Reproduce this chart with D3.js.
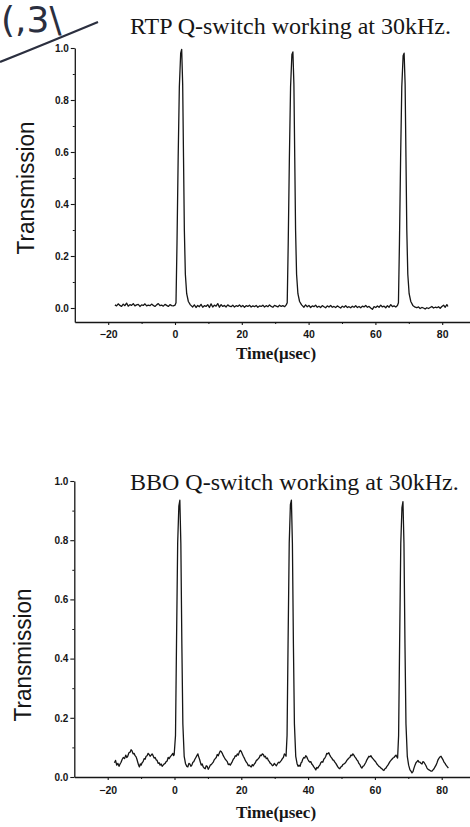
<!DOCTYPE html>
<html>
<head>
<meta charset="utf-8">
<script src="https://cdn.jsdelivr.net/npm/d3@7"></script>
<style>
  html, body { margin: 0; padding: 0; background: #fff; }
  svg { display: block; }
</style>
</head>
<body>
<svg id="chart"></svg>
<script>
// ---- data ----
const yTicks = [0, 0.2, 0.4, 0.6, 0.8, 1.0];
const yMinorTicks = [0.1, 0.3, 0.5, 0.7, 0.9];
const xTicks = [-20, 0, 20, 40, 60, 80];
const xMinorTicks = [-10, 10, 30, 50, 70];

const rtpTitle = "RTP Q-switch working at 30kHz.";
const bboTitle = "BBO Q-switch working at 30kHz.";

// [time (usec), transmission]
const rtpPoints = [
  [-18,.012],[-17.5,.008],[-17,.016],[-16.5,.010],[-16,.006],[-15.5,.015],[-15,.009],[-14.5,.019],
  [-14,.007],[-13.5,.013],[-13,.010],[-12.5,.017],[-12,.008],[-11.5,.012],[-11,.014],[-10.5,.006],
  [-10,.012],[-9.5,.010],[-9,.016],[-8.5,.008],[-8,.011],[-7.5,.009],[-7,.015],[-6.5,.010],
  [-6,.006],[-5.5,.012],[-5,.017],[-4.5,.009],[-4,.011],[-3.5,.007],[-3,.014],[-2.5,.010],
  [-2,.006],[-1.5,.013],[-1,.009],[-0.5,.008],[0,.011],
  [0.3,.02],[0.6,.25],[0.95,.58],[1.3,.85],[1.7,.98],[2.0,.995],[2.3,.86],[2.55,.58],[2.8,.30],
  [3.1,.13],[3.5,.055],[4.0,.025],[4.6,.012],
  [5.3,.004],[5.8,.012],[6.3,.002],[6.8,.010],[7.3,.005],[7.8,.014],[8.3,.003],[8.8,.009],
  [9.3,.006],[9.8,.013],[10.3,.002],[10.8,.016],[11.3,.004],[11.8,.011],[12.3,.007],[12.8,.017],
  [13.3,.003],[13.8,.013],[14.3,.006],[14.8,.010],[15.3,.004],[15.8,.012],[16.3,.007],[16.8,.005],
  [17.3,.011],[17.8,.004],[18.3,.009],[18.8,.006],[19.3,.012],[19.8,.005],[20.3,.010],[20.8,.003],
  [21.3,.009],[21.8,.006],[22.3,.011],[22.8,.004],[23.3,.008],[23.8,.005],[24.3,.010],[24.8,.003],
  [25.3,.008],[25.8,.006],[26.3,.011],[26.8,.004],[27.3,.009],[27.8,.005],[28.3,.012],[28.8,.006],
  [29.3,.003],[29.8,.010],[30.3,.007],[30.8,.004],[31.3,.011],[31.8,.006],[32.3,.009],[32.8,.005],
  [33.3,.012],
  [33.6,.02],[33.9,.25],[34.25,.58],[34.6,.85],[35.0,.975],[35.3,.985],[35.6,.86],[35.85,.58],
  [36.1,.30],[36.4,.13],[36.8,.055],[37.3,.025],[37.9,.012],
  [38.6,.003],[39.1,.012],[39.6,.005],[40.1,.010],[40.6,.002],[41.1,.008],[41.6,.005],[42.1,.011],
  [42.6,.003],[43.1,.007],[43.6,.002],[44.1,.009],[44.6,.005],[45.1,.001],[45.6,.008],[46.1,.004],
  [46.6,.010],[47.1,.003],[47.6,.006],[48.1,.002],[48.6,.008],[49.1,.004],[49.6,.000],[50.1,.007],
  [50.6,.003],[51.1,.009],[51.6,.002],[52.1,.005],[52.6,.001],[53.1,.007],[53.6,.003],[54.1,.009],
  [54.6,.002],[55.1,.006],[55.6,.001],[56.1,.007],[56.6,.004],[57.1,.010],[57.6,.003],[58.1,.006],
  [58.6,.000],[59.1,-.005],[59.6,.005],[60.1,.002],[60.6,.008],[61.1,.003],[61.6,.011],[62.1,.004],
  [62.6,.007],[63.1,.001],[63.6,.009],[64.1,.003],[64.6,.013],[65.1,.005],[65.6,.008],[66.1,.004],
  [66.6,.010],
  [66.9,.02],[67.2,.25],[67.55,.58],[67.9,.85],[68.3,.97],[68.6,.98],[68.9,.86],[69.15,.58],
  [69.4,.30],[69.7,.13],[70.1,.055],[70.6,.025],[71.2,.010],
  [71.9,.003],[72.4,.001],[72.9,.004],[73.4,-.002],[73.9,.002],[74.4,.000],[74.9,-.004],[75.4,.001],
  [75.9,-.002],[76.4,.002],[76.9,.006],[77.4,.000],[77.9,.003],[78.4,.001],[78.9,.005],[79.4,-.001],
  [79.9,.006],[80.4,.011],[80.9,.003],[81.4,.013],[81.7,.006]
];

const bboPoints = [
  [-18,.048],[-17.65,.056],[-17.3,.040],[-16.95,.046],[-16.6,.036],[-16.3,.044],[-16,.050],[-15.65,.060],
  [-15.3,.066],[-14.95,.062],[-14.6,.074],[-14.3,.066],[-14,.070],[-13.65,.082],[-13.3,.084],[-13,.092],
  [-12.7,.088],[-12.4,.078],[-12.1,.080],[-11.8,.072],[-11.5,.068],[-11.25,.060],[-11,.050],[-10.75,.040],
  [-10.5,.034],[-10.25,.044],[-10,.040],[-9.7,.048],[-9.4,.052],[-9.1,.062],[-8.8,.060],[-8.5,.070],
  [-8.2,.072],[-7.9,.080],[-7.6,.076],[-7.3,.070],[-7,.074],[-6.7,.078],[-6.4,.072],[-6.1,.064],
  [-5.8,.066],[-5.5,.058],[-5.2,.056],[-4.9,.046],[-4.6,.048],[-4.3,.040],[-4,.044],[-3.7,.036],
  [-3.4,.040],[-3.1,.044],[-2.8,.046],[-2.5,.052],[-2.2,.054],[-1.9,.066],[-1.6,.062],[-1.3,.068],
  [-1,.072],[-0.75,.076],[-0.5,.080],[-0.3,.072],[-0.1,.075],
  [0.3,.14],[0.6,.45],[0.95,.79],[1.3,.915],[1.6,.935],[1.9,.79],[2.2,.45],[2.5,.18],[2.9,.07],[3.3,.045],
  [3.7,.036],[4.0,.034],[4.3,.046],[4.6,.044],[4.9,.036],[5.2,.040],[5.5,.050],[5.8,.052],
  [6.1,.060],[6.4,.066],[6.7,.072],[7.0,.078],[7.25,.068],[7.5,.060],[7.75,.050],[8.0,.040],
  [8.3,.044],[8.6,.034],[8.9,.030],[9.2,.028],[9.5,.038],[9.8,.036],[10.1,.026],[10.4,.032],
  [10.7,.040],[11,.042],[11.3,.046],[11.6,.050],[11.9,.058],[12.2,.062],[12.5,.066],[12.8,.076],
  [13.1,.072],[13.4,.080],[13.7,.088],[14,.086],[14.3,.080],[14.6,.072],[14.9,.066],[15.2,.060],
  [15.5,.056],[15.8,.052],[16.1,.042],[16.4,.044],[16.7,.040],[17,.046],[17.3,.052],[17.6,.060],
  [17.9,.064],[18.2,.072],[18.5,.070],[18.8,.078],[19.1,.074],[19.4,.084],[19.7,.090],[20,.086],
  [20.3,.078],[20.6,.070],[20.9,.064],[21.2,.056],[21.5,.050],[21.8,.046],[22.1,.038],[22.4,.040],
  [22.7,.036],[23,.034],[23.3,.042],[23.6,.038],[23.9,.044],[24.2,.048],[24.5,.056],[24.8,.058],
  [25.1,.062],[25.4,.066],[25.7,.074],[26,.072],[26.3,.078],[26.6,.076],[26.9,.068],[27.2,.070],
  [27.5,.062],[27.8,.064],[28.1,.056],[28.4,.052],[28.7,.046],[29,.044],[29.3,.038],[29.6,.040],
  [29.9,.046],[30.2,.042],[30.5,.038],[30.8,.044],[31.1,.050],[31.4,.048],[31.7,.052],[32,.056],
  [32.3,.062],[32.6,.066],[32.9,.078],[33.1,.076],[33.4,.070],
  [33.7,.14],[34.0,.45],[34.35,.79],[34.7,.92],[35.0,.935],[35.3,.79],[35.6,.45],[35.9,.18],[36.3,.07],[36.7,.045],
  [37.0,.036],[37.3,.040],[37.6,.036],[37.9,.048],[38.1,.050],[38.4,.060],[38.7,.066],[39.0,.064],
  [39.3,.072],[39.6,.068],[39.9,.060],[40.2,.054],[40.5,.050],[40.8,.052],[41.1,.044],[41.4,.040],
  [41.7,.034],[42.0,.030],[42.3,.024],[42.6,.032],[42.9,.030],[43.2,.036],[43.5,.040],[43.8,.048],
  [44.1,.052],[44.4,.050],[44.7,.060],[45.0,.064],[45.3,.070],[45.6,.080],[45.9,.078],[46.2,.082],
  [46.5,.074],[46.8,.068],[47.1,.064],[47.4,.058],[47.7,.056],[48.0,.050],[48.3,.046],[48.6,.040],
  [48.9,.034],[49.2,.030],[49.5,.028],[49.8,.034],[50.1,.036],[50.4,.042],[50.7,.044],[51.0,.046],
  [51.3,.050],[51.6,.056],[51.9,.060],[52.2,.064],[52.5,.066],[52.8,.074],[53.1,.072],[53.4,.078],
  [53.7,.074],[54.0,.068],[54.3,.064],[54.6,.058],[54.9,.054],[55.2,.046],[55.5,.042],[55.8,.034],
  [56.1,.030],[56.4,.036],[56.7,.038],[57.0,.044],[57.3,.050],[57.6,.058],[57.9,.064],[58.2,.070],
  [58.5,.068],[58.8,.072],[59.1,.066],[59.4,.062],[59.7,.058],[60.0,.054],[60.3,.050],[60.6,.044],
  [60.9,.040],[61.2,.036],[61.5,.034],[61.8,.030],[62.1,.028],[62.4,.024],[62.7,.022],[63.0,.028],
  [63.3,.030],[63.6,.036],[63.9,.040],[64.2,.046],[64.5,.052],[64.8,.056],[65.1,.060],[65.4,.064],
  [65.7,.066],[66.0,.070],[66.3,.074],[66.6,.068],[66.8,.064],
  [67.1,.14],[67.4,.45],[67.75,.79],[68.1,.91],[68.4,.93],[68.7,.79],[69.0,.45],[69.3,.18],[69.7,.07],[70.1,.04],
  [70.5,.024],[70.8,.020],[71.1,.014],[71.4,.018],[71.7,.030],[72.0,.040],[72.3,.048],[72.6,.052],
  [72.9,.056],[73.2,.050],[73.5,.050],[73.8,.046],[74.1,.044],[74.4,.052],[74.7,.050],[75.0,.044],
  [75.3,.038],[75.6,.030],[75.9,.026],[76.2,.024],[76.5,.022],[76.8,.020],[77.1,.020],[77.4,.024],
  [77.7,.028],[78.0,.034],[78.3,.040],[78.6,.048],[78.9,.058],[79.2,.064],[79.5,.068],[79.8,.070],
  [80.1,.064],[80.4,.058],[80.7,.050],[81.0,.046],[81.3,.040],[81.6,.036],[82,.030]
];

const width = 470;
const height = 827;
const ink = "#161616";

const svg = d3.select("#chart")
  .attr("width", width)
  .attr("height", height)
  .attr("viewBox", [0, 0, width, height]);

// handwritten scribble in the top-left corner of the scan
svg.append("text")
  .attr("x", 1)
  .attr("y", 32)
  .attr("font-family", "DejaVu Sans")
  .attr("font-size", 36)
  .attr("fill", "#2b2f3f")
  .text("(,3\\");
svg.append("path")
  .attr("d", "M0,62 Q45,44 98,22")
  .attr("fill", "none")
  .attr("stroke", "#2b2f3f")
  .attr("stroke-width", 2.2);

function panel({points, title, titleY, x0, yTop, yZero, xAxisY, labelPos, tickPad, timeY}) {
  const x = d3.scaleLinear()
    .domain([-30, 90])
    .range([x0 - 30 * 3.34, x0 + 90 * 3.34]);
  const y = d3.scaleLinear()
    .domain([0, 1])
    .range([yZero, yTop]);
  const yMin = y.invert(xAxisY);
  const yAxisX = x(-30);

  const g = svg.append("g");

  // title
  g.append("text")
    .attr("x", 130)
    .attr("y", titleY)
    .attr("font-family", "Liberation Serif")
    .attr("font-size", 24)
    .attr("fill", ink)
    .text(title);

  // y axis
  const yS = d3.scaleLinear().domain([yMin, 1]).range([xAxisY, yTop]);
  g.append("g")
    .attr("transform", `translate(${yAxisX},0)`)
    .call(d3.axisLeft(yS).tickValues(yTicks).tickFormat(d3.format(".1f")).tickSize(4).tickSizeOuter(0).tickPadding(2))
    .call(a => a.select(".domain").attr("stroke", ink).attr("stroke-width", 1.3))
    .call(a => a.selectAll(".tick line").attr("stroke", ink).attr("stroke-width", 1.1))
    .call(a => a.selectAll(".tick text")
      .attr("font-family", "Liberation Sans")
      .attr("font-weight", "bold")
      .attr("font-size", 10)
      .attr("fill", ink));
  g.append("g")
    .attr("transform", `translate(${yAxisX},0)`)
    .call(d3.axisLeft(yS).tickValues(yMinorTicks).tickFormat("").tickSize(2).tickSizeOuter(0))
    .call(a => a.select(".domain").remove())
    .call(a => a.selectAll(".tick line").attr("stroke", ink));

  // x axis
  const xS = d3.scaleLinear().domain([-30, 92]).range([yAxisX, x(92)]);
  g.append("g")
    .attr("transform", `translate(0,${xAxisY})`)
    .call(d3.axisBottom(xS).tickValues(xTicks).tickFormat(d3.format("d")).tickSize(3).tickSizeOuter(0).tickPadding(tickPad))
    .call(a => a.select(".domain").attr("stroke", ink).attr("stroke-width", 1.3))
    .call(a => a.selectAll(".tick line").attr("stroke", ink).attr("stroke-width", 1.1))
    .call(a => a.selectAll(".tick text")
      .attr("font-family", "Liberation Sans")
      .attr("font-weight", "bold")
      .attr("font-size", 10.5)
      .attr("fill", ink));
  g.append("g")
    .attr("transform", `translate(0,${xAxisY})`)
    .call(d3.axisBottom(xS).tickValues(xMinorTicks).tickFormat("").tickSize(2).tickSizeOuter(0))
    .call(a => a.select(".domain").remove())
    .call(a => a.selectAll(".tick line").attr("stroke", ink));

  // y label
  g.append("text")
    .attr("transform", `translate(${labelPos[0]},${labelPos[1]}) rotate(-90)`)
    .attr("text-anchor", "middle")
    .attr("font-family", "Liberation Sans")
    .attr("font-size", 23)
    .attr("textLength", 133)
    .attr("lengthAdjust", "spacingAndGlyphs")
    .attr("fill", ink)
    .text("Transmission");

  // x label
  g.append("text")
    .attr("x", 276)
    .attr("y", timeY)
    .attr("text-anchor", "middle")
    .attr("font-family", "Liberation Serif")
    .attr("font-weight", "bold")
    .attr("font-size", 17)
    .attr("fill", ink)
    .text("Time(\u03bcsec)");

  // trace
  const line = d3.line()
    .x(d => x(d[0]))
    .y(d => y(d[1]));
  g.append("path")
    .attr("fill", "none")
    .attr("stroke", ink)
    .attr("stroke-width", 1.3)
    .attr("stroke-linejoin", "round")
    .attr("d", line(points));
}

panel({
  points: rtpPoints, title: rtpTitle, titleY: 34,
  x0: 175, yTop: 48, yZero: 308, xAxisY: 322,
  labelPos: [34, 188], tickPad: 6, timeY: 359
});

panel({
  points: bboPoints, title: bboTitle, titleY: 490,
  x0: 174.5, yTop: 481, yZero: 777, xAxisY: 777,
  labelPos: [31, 655], tickPad: 7, timeY: 818
});
</script>
</body>
</html>
